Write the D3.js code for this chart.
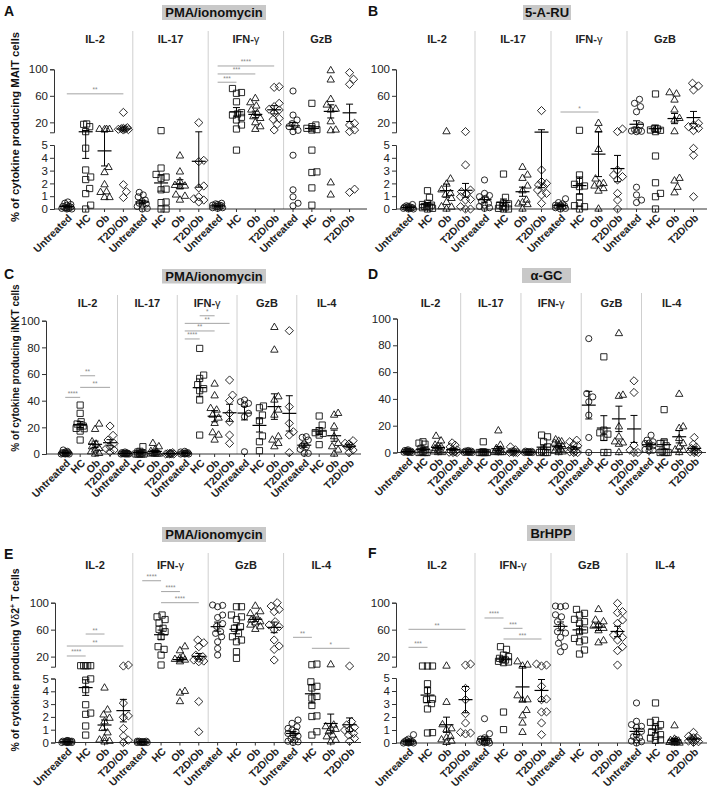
<!DOCTYPE html>
<html><head><meta charset="utf-8">
<script src="https://cdn.jsdelivr.net/npm/d3@7"></script>
<style>body{margin:0;background:#fff}svg{display:block}</style>
</head><body><script>
// ---------- categories / labels ----------
const conditions = ["Untreated","HC","Ob","T2D/Ob"];
const groupsMAIT = ["IL-2","IL-17","IFN-γ","GzB"];
const groupsINKT = ["IL-2","IL-17","IFN-γ","GzB","IL-4"];
const groupsVD2 = ["IL-2","IFN-γ","GzB","IL-4"];
const ticksUpper = [20,60,100];
const ticksLower = [0,1,2,3,4,5];
const ticksLinear = [0,20,40,60,80,100];

// ---------- data: [Untreated, HC, Ob, T2D/Ob] ----------
// A: MAIT, PMA/ionomycin
const A_IL2 = [[0.55,0.45,0.35,0.3,0.2,0.15,0.1,0.1,0.05,0.05,0,0,0.2],[17.6,17,13.5,6,4.75,3.05,2.5,2.3,1.6,1.2,0.3,0],[9.5,9.5,9.5,9,3.25,2.85,1.9,1.35,1.3,0.9,0.9],[35,12,11,10.5,10,9.5,9,8.5,1.9,1.35,0.9]];
const A_IL17 = [[1.3,1.1,0.95,0.7,0.57,0.45,0.4,0.3,0.2,0.05,0],[7.5,3.2,2.7,2.5,2.4,1.55,1.5,0.55,0.5,0,0],[4.15,2.9,2.15,1.85,1.8,1.75,1.1,1.0,0.7],[19.6,3.8,3.7,1.8,1.65,0.95,0.8,0.7,0.55]];
const A_IFNg = [[0.45,0.4,0.35,0.3,0.25,0.2,0.2,0.15,0.1,0.1,0.05,0.3],[71,65,63.8,51,34.6,32.6,31,27.6,23.6,16,10,4.6],[56,49.7,44.7,38.7,33.6,28.6,26,19.6,13.5,9.5],[72.8,73.8,48.7,43.7,39.7,38.7,34.6,26,24.6,17,8.5]];
const A_GzB = [[67.3,31,23.6,18,16,13.5,8,6,4.2,1.5,0.95,0.45,0.25],[48.7,16,13.5,11,9,8.5,4.6,2.9,2.85,1.65,0.3],[98,84,54.7,46.2,40,38.7,21,8.5,7.5,2.05,1.1],[95,85,77.4,18.6,16,8.5,6,1.55,1.3]];
// B: MAIT, 5-A-RU
const B_IL2 = [[0.35,0.25,0.2,0.15,0.1,0.1,0.05,0.05,0,0,0.15,0.1],[1.43,0.91,0.45,0.35,0.3,0.2,0.15,0.1,0.05,0,0.2],[6,2.35,1.95,1.5,1.22,1.1,0.83,0.52,0.18,0.15,0],[6,3.44,1.48,1.35,1.2,0.96,0.75,0.7,0.18,0,0]];
const B_IL17 = [[2.27,1.22,1.05,0.96,0.83,0.6,0.45,0.3,0.2,0.1,0.05],[2.73,0.91,0.45,0.4,0.3,0.2,0.15,0.05,0,0],[3.26,2.66,2.4,1.8,1.43,0.7,0.5,0.4,0.35,0],[37.7,3.05,2.14,2.0,1.88,1.74,1.48,1.22,1.1,0.44]];
const B_IFNg = [[0.8,0.5,0.4,0.3,0.25,0.2,0.15,0.1,0.05,0.3,0.2,0],[8,2.66,2.14,1.93,1.8,1.75,0.96,0.44,0.26,0.18,0],[18.6,8.5,4.66,2.35,2.0,1.95,1.8,1.6,1.4,0],[10,6,3.05,2.66,2.53,2.27,1.22,0.7,0]];
const B_GzB = [[54.7,48.7,43.7,36,16,9,8,7,6.5,6,1.7,1.1,0.7,0.5],[62.8,11,10,8.5,8,6,4.14,2.05,1.22,0.96,0],[64.8,62.8,53.7,38.7,26,23.6,6,2.4,2.2,1.7,1.27],[79,75,68.8,18.6,16,13.5,11,7.5,4.74,4.2,0.96]];
// C: iNKT, PMA/ionomycin
const C_IL2 = [[3,2,1.5,1,0.5,0.5,0,0,0,1,0.3,0.2],[36.7,30.5,24.2,22.5,21,20.5,19.2,19,17.2,10.5],[22.5,18.5,9.2,7.5,5.5,4.2,3,1.7,0.5,0],[21,14,10.5,8,5.5,4,3,1.7]];
const C_IL17 = [[1.5,1,0.5,0.5,0.3,0,0,0,0,0.2,0.8,0.4],[5.5,2,1.5,1,0.5,0,0,0,0,0],[8,5.5,3,2,1.5,1,0.5,0,0,0,0],[1,0.5,0.3,0.2,0,0,0,0.1]];
const C_IFNg = [[2,1.5,1,0.5,0.5,0,0,0,0.3,0.8],[79.2,59.2,56.7,52,49,47.5,40.5,14.2],[52.5,43.7,34.2,33,29.2,27,23,16,14.2,10.5],[55.5,44.2,40,30.5,24.2,14.2,8]];
const C_GzB = [[40.5,39.2,38,37,30.5,28,1.7],[36,34.7,29.2,25,13.5,9.2,2.5],[95,78,43,40.5,33,29.2,13,10.5,8,5.5],[92.5,35.5,23,16.7,14.2,1]];
const C_IL4 = [[13,12.5,10.5,7.5,6,5.5,3.5,0.5,0.5],[28.5,21.7,17.5,16,15.5,14.2,7],[30.5,29.2,20.5,13,8,5.5,3,0],[10,8,7.5,6,5.5,3,1]];
// D: iNKT, alpha-GC
const D_IL2 = [[2,1.5,1,1,0.5,0.5,0,0,0.3,0.8,0.2,1.2],[8,7,6.2,3,2,1,0,0,0,0,0.5],[12.2,8.7,5.5,4.7,4.2,3,2,1,0.5,0,0],[7.2,5.5,4.2,2,1.5,1,0.5,0,0,0.2]];
const D_IL17 = [[1.5,1,1,0.5,0.5,0.2,0,0,0,0.3],[8,0,0,0,0,0,0,0.5,0.2],[16.2,5.5,3,2,1,0.5,0,0,0,0],[4.2,2,1,0.5,0.3,0,0,0.1]];
const D_IFNg = [[1,0.8,0.5,0.5,0.3,0.2,0,0,0,0.1],[13,11.7,8,4.2,2,1,0,0,0,0],[9.5,8.5,8,7,5.5,4.5,3.5,2.5,1.5,1,0.5,0],[9.2,8,6,5,3,2,1,0.5,0,0]];
const D_GzB = [[85,44,41.5,37.8,27.9,11.2,0],[71.4,16.7,14.7,13.7,11.2,0,0],[88.8,42.8,42,19.2,11.7,8,7.2,6.2,0],[53.5,44.8,5.5,1.7,0,0]];
const D_IL4 = [[12.9,9.2,8,7,6.7,5,4.2,2.2,1.7,1.2],[32,8,6.7,5,1,0,0,0,0],[43.5,19.2,18,10.5,6.7,4.2,2,1.7,0],[11.2,6.2,4,3,1.5,1,0,0,0.5]];
// E: Vd2 T, PMA/ionomycin
const E_IL2 = [[0.15,0.1,0.1,0.05,0.05,0,0,0,0.1,0.05,0.15,0,0.05],[6.5,6.5,6.5,6.5,6.5,4.97,4.87,4.13,2.95,2.3,2.2,1.29,0.58],[4.26,2.55,2.16,1.9,1.63,1.1,0.76,0.32,0.2,0.1,0.05],[7.5,6,3.08,2.08,1.97,1.1,0.5,0.18,0]];
const E_IFNg = [[0.1,0.05,0.05,0,0,0,0.1,0.05,0,0.1,0.05,0],[81.7,79,75,70,62,60.5,57,49.5,34.7,30.7,22.3,7.5],[34.7,28.8,19.9,17.4,16,14.9,12.4,4.0,3.87,3.2],[44.6,40.6,34.7,22,19.9,17.4,14.9,13.4,12.4,3.2,0.84]];
const E_GzB = [[96.6,96,94,81.7,78,69,65,57,54.5,49.5,42,32,22.3],[94,94,81.7,79,75,64.4,62,54.5,49.5,44.6,42,27.3,17.4],[95,86.7,84,79,74.3,71.8,70.3,66.9,64.4,60.5],[100,95,90,86.7,71.8,66.9,64.4,60,44.6,35.7,30.7,14.9]];
const E_IL4 = [[1.76,1.5,1.24,1.1,0.97,0.84,0.71,0.6,0.5,0.3,0.2,0.1,0.05,0],[8.9,7.9,4.74,4.39,4.26,3.6,3.47,2.89,2.08,2.03,0.84,0.58],[8,1.37,1.24,1.1,1.03,0.84,0.58,0.45,0.18,0.05],[6,1.63,1.37,1.18,1.0,0.97,0.71,0.58,0.32,0.1]];
// F: Vd2 T, BrHPP
const F_IL2 = [[0.64,0.3,0.2,0.15,0.1,0.1,0.05,0.05,0,0,0,0.1,0.05],[6,6,6,4.56,4.05,3.38,3.33,3.03,2.62,0.8,0.77],[6,3.13,1.41,1.1,1.03,0.51,0.4,0.25,0.15,0.05],[8.9,7.5,4.2,3.33,2.26,1.54,0.82,0.77,0.7]];
const F_IFNg = [[1.87,0.72,0.4,0.3,0.2,0.15,0.1,0.1,0.05,0,0,0.05],[34.7,30.7,22.3,19.9,17.4,15.9,14.9,13,12,11,2.38,1.03],[12.4,7.5,6,3.64,3.33,3.3,2.51,2.1,1.54,0.82],[8.9,7.5,6,4.36,3.38,3.33,2.4,2.38,1.54,0.64]];
const F_GzB = [[95,95,94,82,79,71.8,64.4,57,55,48.6,39.7,34.7,27.3],[90,84.2,81.7,75.3,71.8,69.4,59.5,57,47,44.6,42,29.8,23.8],[90,74.3,71.8,66.9,65.4,62,58.5,43.6,40.6],[99,86.7,85.2,74.3,69.4,57,52,48.6,44.6,34.7,28.8,7.5]];
const F_IL4 = [[3.08,1.67,1.41,1.28,1.2,0.9,0.64,0.5,0.4,0.25,0.15,0.1,0],[3.08,1.74,1.59,1.41,1.23,0.82,0.64,0.51,0.38,0.25,0.2],[1.33,0.3,0.2,0.15,0.1,0.1,0.05,0.05,0,0,0.2],[0.82,0.51,0.4,0.38,0.3,0.25,0.2,0.15,0.1,0.05]];

// significance bars: [fromCategory, toCategory, yValue, label]
const sigA = [[0,3,63,"**"],[8,11,105,"****"],[8,10,93,"***"],[8,9,80.5,"***"]];
const sigB = [[8,10,35.6,"*"]];
const sigC = [[0,1,42.5,"****"],[1,2,58.7,"**"],[1,3,50,"**"],[8,9,86.3,"****"],[8,10,92.3,"**"],[8,11,98,"**"],[9,10,103.7,"*"]];
const sigD = [];
const sigE = [[0,1,20.9,"****"],[0,3,35.7,"**"],[1,2,53.5,"**"],[4,5,132.6,"****"],[5,6,116.5,"****"],[5,7,100,"****"],[12,13,48.6,"**"],[13,15,32.3,"*"]];
const sigF = [[0,1,33.8,"***"],[0,3,60.5,"**"],[4,5,77.3,"****"],[5,6,62,"***"],[5,7,46.1,"***"]];

// ---------- layout ----------
const FONT = '"Liberation Sans", Arial, Helvetica, sans-serif';
const svg = d3.select("body").append("svg").attr("width",708).attr("height",791)
  .attr("font-family",FONT);

const layouts = {
  A:{split:true, axisX:54, bandStart:57.4, step:18.85, y0:209, y5:145, yBreak:132.3, y100:69.3, axisEnd:367, sepTop:31, groupLabelY:43,
     title:"PMA/ionomycin", box:[162,5,104,15], letter:"A", letterPos:[4,16], ylabel:"% of cytokine producing MAIT cells", ylabelPos:[15,127], ylabelSize:11.3},
  B:{split:true, axisX:396, bandStart:399, step:19, y0:209, y5:145, yBreak:132.3, y100:69.3, axisEnd:707, sepTop:31, groupLabelY:43,
     title:"5-A-RU", box:[523,5,48,15], letter:"B", letterPos:[368,16]},
  C:{split:false, axisX:46, bandStart:57.75, step:14.94, y0:454, y100:320.7, axisEnd:361, sepTop:295, groupLabelY:307,
     title:"PMA/ionomycin", box:[162,269,104,14.5], letter:"C", letterPos:[4,279], ylabel:"% of cytokine producing iNKT cells", ylabelPos:[15,368], ylabelSize:10},
  D:{split:false, axisX:397, bandStart:400.4, step:15.07, y0:452.5, y100:318.5, axisEnd:706, sepTop:293, groupLabelY:307,
     title:"α-GC", box:[522,268,49,15], letter:"D", letterPos:[368,279]},
  E:{split:true, axisX:55, bandStart:57.4, step:18.85, y0:742.5, y5:678.5, yBreak:666.7, y100:602.7, axisEnd:361, sepTop:553, groupLabelY:569,
     title:"PMA/ionomycin", box:[162,527,104,15], letter:"E", letterPos:[4,559], ylabel:["% of cytokine producing V","δ","2","+"," T cells"], ylabelPos:[15,660], ylabelSize:10.5},
  F:{split:true, axisX:396, bandStart:399, step:19, y0:743, y5:678, yBreak:666.7, y100:602.7, axisEnd:707, sepTop:553, groupLabelY:569,
     title:"BrHPP", box:[527,525,48,16], letter:"F", letterPos:[368,558]}
};

function markerPath(type, x, y) {
  const r = 3.1;
  if (type === 0) return `M${x+r},${y}A${r},${r} 0 1,1 ${x-r},${y}A${r},${r} 0 1,1 ${x+r},${y}Z`;
  if (type === 1) return `M${x-r},${y-r}h${2*r}v${2*r}h${-2*r}Z`;
  if (type === 2) { const s = 3.7, h = s*Math.sqrt(3); return `M${x},${y-h*2/3}L${x+s},${y+h/3}L${x-s},${y+h/3}Z`; }
  const q = 4.1; return `M${x},${y-q}L${x+q},${y}L${x},${y+q}L${x-q},${y}Z`;
}

function swarm(ys, dist, maxOff) {
  const idx = d3.range(ys.length).sort((a,b)=>ys[b]-ys[a]);
  const cands = [];
  for (let o=0;o<=maxOff;o+=1) { cands.push(o); if (o>0) cands.push(-o); }
  const placed = [], off = new Array(ys.length).fill(0);
  for (const i of idx) {
    let best = 0, bestScore = -1;
    for (const c of cands) {
      let m = Infinity;
      for (const p of placed) { const dd = Math.hypot(p[0]-c, p[1]-ys[i]); if (dd < m) m = dd; }
      if (m >= dist) { best = c; break; }
      if (m > bestScore + 0.6) { bestScore = m; best = c; }
    }
    off[i] = best; placed.push([best, ys[i]]);
  }
  return off;
}

function yAxis(g, scale, ticks, L) {
  const ax = g.append("g").attr("transform",`translate(${L.axisX},0)`)
    .call(d3.axisLeft(scale).tickValues(ticks).tickSize(4).tickSizeOuter(4).tickPadding(2).tickFormat(d3.format("d")));
  ax.attr("font-family",FONT).attr("font-size",11.5);
  ax.selectAll("path,line").attr("stroke","#333").attr("stroke-width",1);
  ax.selectAll("text").attr("fill","#222");
}

function drawPanel(L, groups, data, sigs) {
  const g = svg.append("g");
  const n = groups.length*4;
  const x = d3.scaleBand().domain(d3.range(n)).range([L.bandStart, L.bandStart + L.step*n]);
  const cx = i => x(i) + x.bandwidth()/2;
  let yv;
  if (L.split) {
    const yLow = d3.scaleLinear().domain([0,5]).range([L.y0, L.y5]);
    const yUp = d3.scaleLinear().domain([5,100]).range([L.yBreak, L.y100]);
    yv = v => v <= 5 ? yLow(v) : yUp(v);
    yAxis(g, yLow, ticksLower, L);
    yAxis(g, yUp, ticksUpper, L);
  } else {
    const y = d3.scaleLinear().domain([0,100]).range([L.y0, L.y100]);
    yv = v => y(v);
    yAxis(g, y, ticksLinear, L);
  }
  for (let k=1;k<groups.length;k++) {
    const sx = x(k*4);
    g.append("line").attr("x1",sx).attr("x2",sx).attr("y1",L.sepTop).attr("y2",L.y0)
      .attr("stroke","#cfcfcf").attr("stroke-width",1);
  }
  groups.forEach((gr,k) => {
    const mx = (x(k*4) + x(k*4+3) + x.bandwidth())/2;
    const t = g.append("text").attr("x",mx).attr("y",L.groupLabelY).attr("text-anchor","middle")
      .attr("font-size",11).attr("font-weight","bold").attr("fill","#222");
    if (gr.includes("γ")) {
      t.append("tspan").text(gr.replace("γ",""));
      t.append("tspan").attr("font-weight","normal").text("γ");
    } else t.text(gr);
  });
  g.append("line").attr("x1",L.axisX).attr("x2",L.axisEnd).attr("y1",L.y0).attr("y2",L.y0)
    .attr("stroke","#333").attr("stroke-width",1);
  for (let i=0;i<n;i++) {
    g.append("line").attr("x1",cx(i)).attr("x2",cx(i)).attr("y1",L.y0).attr("y2",L.y0+3).attr("stroke","#333");
    g.append("text").attr("transform",`translate(${cx(i)+3},${L.y0+7}) rotate(-45)`)
      .attr("text-anchor","end").attr("dy","0.35em").attr("font-size",10.5).attr("font-weight","bold")
      .attr("fill","#222").text(conditions[i%4]);
  }
  const maxOff = L.step*0.3;
  data.forEach((grp,k) => grp.forEach((vals,c) => {
    const i = k*4 + c;
    const ys = vals.map(yv);
    const off = swarm(ys, 6.2, maxOff);
    vals.forEach((v,j) => {
      g.append("path").attr("d", markerPath(c, cx(i)+off[j], ys[j]))
        .attr("fill","none").attr("stroke","#111").attr("stroke-width",0.9);
    });
    const m = d3.mean(vals), s = d3.deviation(vals)/Math.sqrt(vals.length);
    const lo = Math.max(0, m - s), hi = m + s;
    const X = cx(i);
    g.append("line").attr("x1",X-7).attr("x2",X+7).attr("y1",yv(m)).attr("y2",yv(m)).attr("stroke","#000").attr("stroke-width",1.2);
    g.append("line").attr("x1",X).attr("x2",X).attr("y1",yv(lo)).attr("y2",yv(hi)).attr("stroke","#000").attr("stroke-width",1);
    [lo,hi].forEach(b => g.append("line").attr("x1",X-3.5).attr("x2",X+3.5).attr("y1",yv(b)).attr("y2",yv(b)).attr("stroke","#000").attr("stroke-width",1));
  }));
  sigs.forEach(([a,b,v,lab]) => {
    const yy = yv(v);
    g.append("line").attr("x1",cx(a)).attr("x2",cx(b)).attr("y1",yy).attr("y2",yy).attr("stroke","#9a9a9a").attr("stroke-width",0.9);
    g.append("text").attr("x",(cx(a)+cx(b))/2).attr("y",yy-1.5).attr("text-anchor","middle")
      .attr("font-size",6.5).attr("fill","#888").text(lab);
  });
  const [bx,by,bw,bh] = L.box;
  g.append("rect").attr("x",bx).attr("y",by).attr("width",bw).attr("height",bh).attr("fill","#c8c8c8");
  g.append("text").attr("x",bx+bw/2).attr("y",by+bh/2).attr("dy","0.36em").attr("text-anchor","middle")
    .attr("font-size",13).attr("font-weight","bold").attr("fill","#111").text(L.title);
  g.append("text").attr("x",L.letterPos[0]).attr("y",L.letterPos[1]).attr("font-size",14).attr("font-weight","bold").attr("fill","#111").text(L.letter);
  if (L.ylabel) {
    const t = g.append("text").attr("transform",`translate(${L.ylabelPos[0]},${L.ylabelPos[1]}) rotate(-90)`)
      .attr("text-anchor","middle").attr("dy","0.35em").attr("font-size",L.ylabelSize).attr("font-weight","bold").attr("fill","#111");
    if (Array.isArray(L.ylabel)) {
      t.append("tspan").text(L.ylabel[0]);
      t.append("tspan").attr("font-weight","normal").text(L.ylabel[1]);
      t.append("tspan").text(L.ylabel[2]);
      t.append("tspan").attr("font-size",L.ylabelSize*0.65).attr("dy","-0.5em").text(L.ylabel[3]);
      t.append("tspan").attr("dy","0.32em").text(L.ylabel[4]);
    } else t.text(L.ylabel);
  }
}

drawPanel(layouts.A, groupsMAIT, [A_IL2,A_IL17,A_IFNg,A_GzB], sigA);
drawPanel(layouts.B, groupsMAIT, [B_IL2,B_IL17,B_IFNg,B_GzB], sigB);
drawPanel(layouts.C, groupsINKT, [C_IL2,C_IL17,C_IFNg,C_GzB,C_IL4], sigC);
drawPanel(layouts.D, groupsINKT, [D_IL2,D_IL17,D_IFNg,D_GzB,D_IL4], sigD);
drawPanel(layouts.E, groupsVD2, [E_IL2,E_IFNg,E_GzB,E_IL4], sigE);
drawPanel(layouts.F, groupsVD2, [F_IL2,F_IFNg,F_GzB,F_IL4], sigF);
</script></body></html>
